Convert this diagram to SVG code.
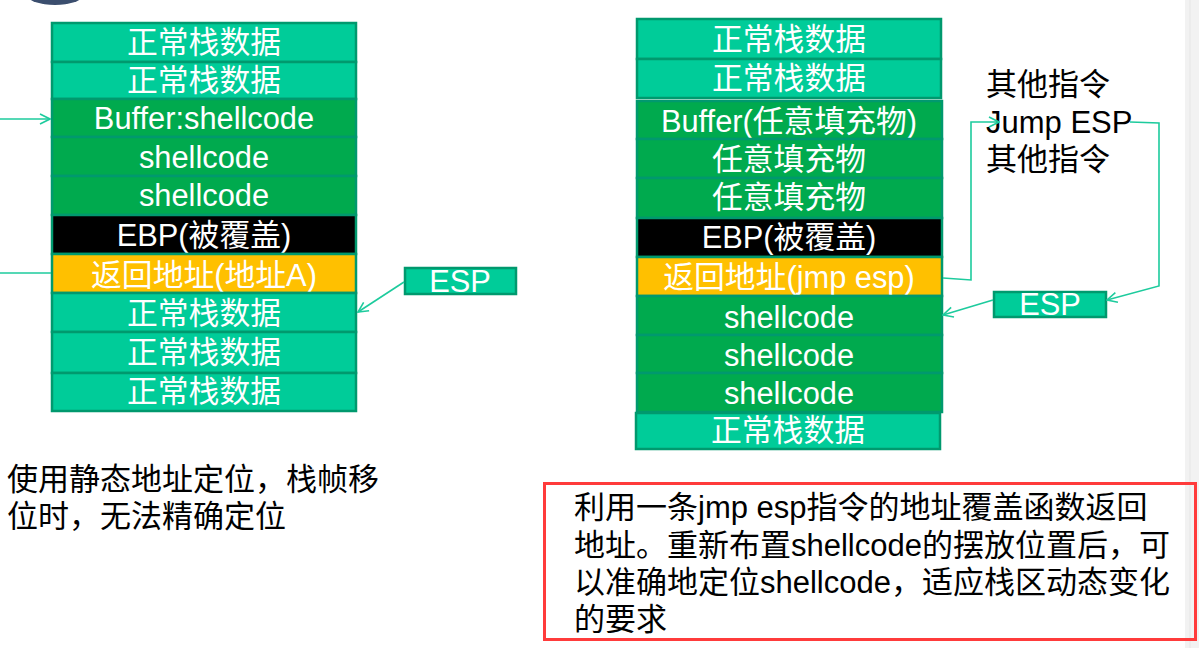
<svg xmlns="http://www.w3.org/2000/svg" width="1199" height="648" viewBox="0 0 1199 648">
<style>
  .teal{fill:#00CC99;stroke:#00996E;stroke-width:2.5}
  .green{fill:#00AA4E;stroke:#00996E;stroke-width:2.5}
  .black{fill:#000000;stroke:#00996E;stroke-width:2.5}
  .gold{fill:#FFC000;stroke:#00996E;stroke-width:2.5}
  .lbl{font-family:"Liberation Sans","Noto Sans CJK SC",sans-serif;font-size:30.8px;fill:#FFFFFF;text-anchor:middle}
  .txt{font-family:"Liberation Sans","Noto Sans CJK SC",sans-serif;font-size:31px;fill:#000000}
  .con{fill:none;stroke:#1DCB9D;stroke-width:1.6}
</style>
<defs>
  <marker id="arr" viewBox="0 0 12 12" refX="11" refY="6" markerWidth="12" markerHeight="12" markerUnits="userSpaceOnUse" orient="auto">
    <path d="M1,1 L11,6 L1,11" fill="none" stroke="#1DCB9D" stroke-width="1.6"/>
  </marker>
</defs>
<rect width="1199" height="648" fill="#FFFFFF"/>
<rect x="1185" y="0" width="14" height="648" fill="#F2F2F2"/>
<line x1="1190" y1="0" x2="1190" y2="648" stroke="#E6E6E6" stroke-width="1"/>
<ellipse cx="55" cy="-4" rx="27" ry="9" fill="#3B4E6E"/>

<g id="left-stack">
  <g id="L1"><rect class="teal" x="52" y="23" width="304" height="39"/><text class="lbl" x="204" y="53">正常栈数据</text></g>
  <g id="L2"><rect class="teal" x="52" y="62" width="304" height="37"/><text class="lbl" x="204" y="91">正常栈数据</text></g>
  <g id="L3"><rect class="green" x="52" y="99" width="304" height="38"/><text class="lbl" x="204" y="129">Buffer:shellcode</text></g>
  <g id="L4"><rect class="green" x="52" y="137" width="304" height="39"/><text class="lbl" x="204" y="168">shellcode</text></g>
  <g id="L5"><rect class="green" x="52" y="176" width="304" height="39"/><text class="lbl" x="204" y="206">shellcode</text></g>
  <g id="L6"><rect class="black" x="52" y="215" width="304" height="39"/><text class="lbl" x="204" y="246">EBP(被覆盖)</text></g>
  <g id="L7"><rect class="gold" x="52" y="254" width="304" height="39"/><text class="lbl" x="204" y="286">返回地址(地址A)</text></g>
  <g id="L8"><rect class="teal" x="52" y="293" width="304" height="39"/><text class="lbl" x="204" y="324">正常栈数据</text></g>
  <g id="L9"><rect class="teal" x="52" y="332" width="304" height="41"/><text class="lbl" x="204" y="363">正常栈数据</text></g>
  <g id="L10"><rect class="teal" x="52" y="373" width="304" height="38"/><text class="lbl" x="204" y="402">正常栈数据</text></g>
</g>

<g id="esp-left"><rect class="teal" x="405" y="268" width="111" height="26"/><text class="lbl" x="460" y="292">ESP</text></g>

<g id="right-stack">
  <g id="R1"><rect class="teal" x="637" y="19" width="304" height="40"/><text class="lbl" x="789" y="50">正常栈数据</text></g>
  <g id="R2"><rect class="teal" x="637" y="59" width="304" height="39"/><text class="lbl" x="789" y="89">正常栈数据</text></g>
  <g id="R3"><rect class="green" x="637" y="101" width="305" height="38"/><text class="lbl" x="789" y="132">Buffer(任意填充物)</text></g>
  <g id="R4"><rect class="green" x="637" y="139" width="305" height="39"/><text class="lbl" x="789" y="170">任意填充物</text></g>
  <g id="R5"><rect class="green" x="637" y="178" width="305" height="40"/><text class="lbl" x="789" y="208">任意填充物</text></g>
  <g id="R6"><rect class="black" x="637" y="218" width="305" height="39"/><text class="lbl" x="789" y="248">EBP(被覆盖)</text></g>
  <g id="R7"><rect class="gold" x="637" y="257" width="305" height="39"/><text class="lbl" x="789" y="288">返回地址(jmp esp)</text></g>
  <g id="R8"><rect class="green" x="637" y="296" width="305" height="39"/><text class="lbl" x="789" y="328">shellcode</text></g>
  <g id="R9"><rect class="green" x="637" y="335" width="305" height="38"/><text class="lbl" x="789" y="366">shellcode</text></g>
  <g id="R10"><rect class="green" x="637" y="373" width="305" height="39"/><text class="lbl" x="789" y="404">shellcode</text></g>
  <g id="R11"><rect class="teal" x="636" y="413" width="304" height="36"/><text class="lbl" x="788" y="441">正常栈数据</text></g>
</g>

<g id="esp-right"><rect class="teal" x="994" y="292" width="112" height="25"/><text class="lbl" x="1050" y="315">ESP</text></g>

<g id="instructions">
  <text class="txt" x="986" y="95">其他指令</text>
  <text class="txt" x="986" y="133">Jump ESP</text>
  <text class="txt" x="986" y="170">其他指令</text>
</g>

<g id="connectors">
  <line class="con" x1="0" y1="119" x2="50" y2="119" marker-end="url(#arr)"/>
  <line class="con" x1="0" y1="273" x2="51" y2="273"/>
  <line class="con" x1="404" y1="282" x2="358" y2="312" marker-end="url(#arr)"/>
  <polyline class="con" points="943,278 971,280 971,122 999,122" marker-end="url(#arr)"/>
  <polyline class="con" points="1130,122 1159,123 1159,286 1107,300" marker-end="url(#arr)"/>
  <line class="con" x1="993" y1="300" x2="943" y2="315" marker-end="url(#arr)"/>
</g>

<g id="note-left">
  <text class="txt" x="7" y="490">使用静态地址定位，栈帧移</text>
  <text class="txt" x="7" y="527">位时，无法精确定位</text>
</g>

<g id="note-right">
  <rect x="544.5" y="483.5" width="651" height="156" fill="none" stroke="#FF3B3B" stroke-width="3"/>
  <text class="txt" x="574" y="518">利用一条jmp esp指令的地址覆盖函数返回</text>
  <text class="txt" x="574" y="556">地址。重新布置shellcode的摆放位置后，可</text>
  <text class="txt" x="574" y="593">以准确地定位shellcode，适应栈区动态变化</text>
  <text class="txt" x="574" y="630">的要求</text>
</g>
</svg>
